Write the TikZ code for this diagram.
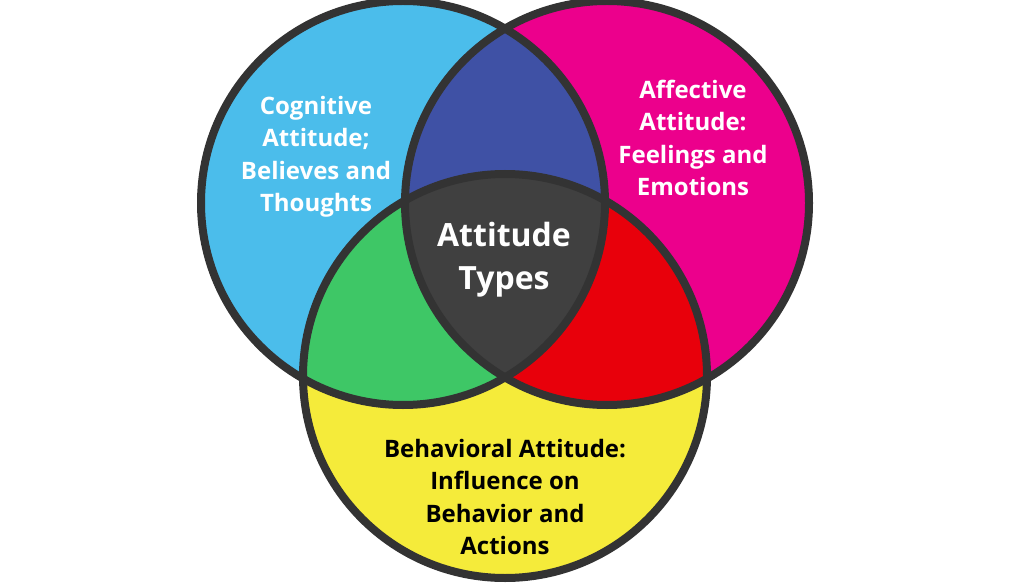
\documentclass[tikz,border=0pt]{standalone}
\usepackage{fontspec}
\setmainfont{Open Sans}[BoldFont={* Bold}]
\definecolor{cblue}{HTML}{4BBDEB}
\definecolor{cmag}{HTML}{EC008C}
\definecolor{cyel}{HTML}{F5EB3A}
\definecolor{cdblue}{HTML}{3F51A5}
\definecolor{cgreen}{HTML}{3EC766}
\definecolor{cred}{HTML}{E8000B}
\definecolor{cgray}{HTML}{404040}
\definecolor{cline}{HTML}{333333}
\tikzset{
  ring/.style={draw=cline, line width=8pt},
  lbl/.style={align=center, font=\bfseries\fontsize{24}{32.5}\selectfont, inner sep=0pt},
  biglbl/.style={align=center, font=\bfseries\fontsize{32}{43}\selectfont, inner sep=0pt}
}
\begin{document}
\begin{tikzpicture}[x=1pt,y=-1pt]
\useasboundingbox (0,0) rectangle (1024,585);
\coordinate (L) at (403,203);
\coordinate (R) at (607,203);
\coordinate (B) at (505,376);
\def\rr{202}
\fill[cblue] (L) circle (\rr);
\fill[cmag] (R) circle (\rr);
\fill[cyel] (B) circle (\rr);
\begin{scope}
  \clip (L) circle (\rr);
  \fill[cdblue] (R) circle (\rr);
  \fill[cgreen] (B) circle (\rr);
  \clip (R) circle (\rr);
  \fill[cgray] (B) circle (\rr);
\end{scope}
\begin{scope}
  \clip (R) circle (\rr);
  \fill[cred] (B) circle (\rr);
  \clip (L) circle (\rr);
  \fill[cgray] (B) circle (\rr);
\end{scope}
\draw[ring] (L) circle (\rr);
\draw[ring] (R) circle (\rr);
\draw[ring] (B) circle (\rr);
\node[lbl, text=white] (cog) at (316,157) {Cognitive\\Attitude;\\Believes and\\Thoughts};
\node[lbl, text=white] (aff) at (693,138) {Affective\\Attitude:\\Feelings and\\Emotions};
\node[biglbl, text=white] (ctr) at (504,260) {Attitude\\Types};
\node[lbl, text=black] (beh) at (505,497) {Behavioral Attitude:\\Influence on\\Behavior and\\Actions};
\end{tikzpicture}
\end{document}
